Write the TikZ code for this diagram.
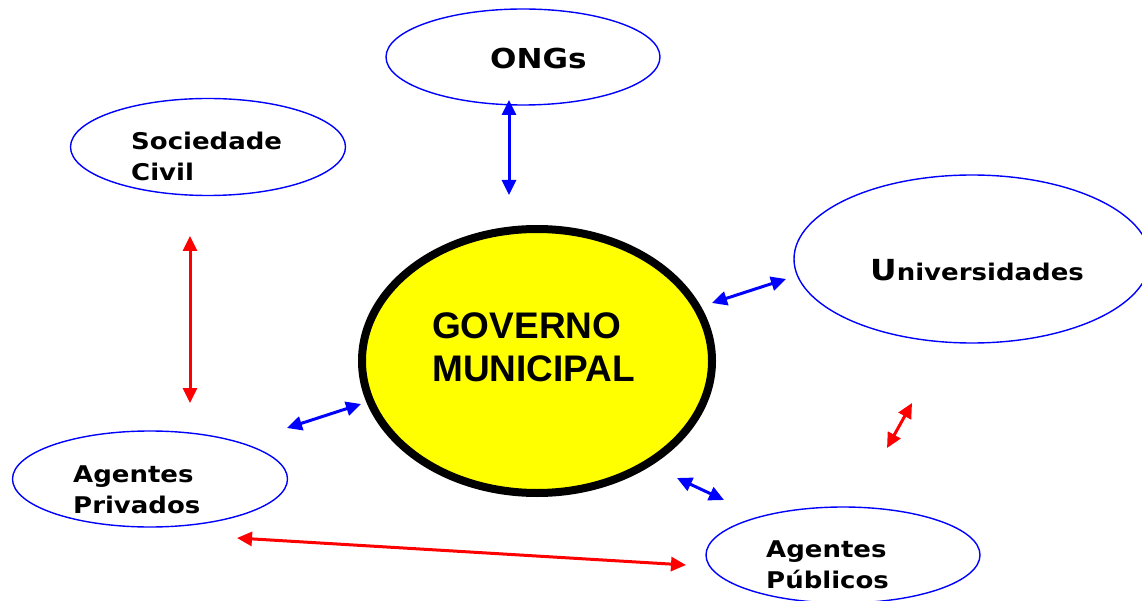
\documentclass[tikz,border=0pt]{standalone}
\usepackage{fontspec}
\setmainfont{DejaVu Sans}
\newfontfamily\verd[FakeStretch=1.13]{DejaVu Sans}
\newfontfamily\arialfont{Liberation Sans}
\usetikzlibrary{shapes.geometric,arrows.meta}
\definecolor{yel}{RGB}{255,255,0}
\definecolor{bl}{RGB}{0,0,255}
\definecolor{rd}{RGB}{255,0,0}
\begin{document}
\begin{tikzpicture}[x=1pt,y=-1pt,
  oval/.style={draw=bl,line width=1.4pt,ellipse,inner sep=0pt},
  lbl/.style={font=\verd\bfseries\fontsize{23}{31}\selectfont,align=left,anchor=west,inner sep=0pt},
  blink/.style={draw=bl,line width=3pt,{Triangle[length=15pt,width=14pt]}-{Triangle[length=15pt,width=14pt]}},
  rlink/.style={draw=rd,line width=3pt,{Triangle[length=15pt,width=14pt]}-{Triangle[length=15pt,width=14pt]}}
]
\useasboundingbox (0,0) rectangle (1142,601);
% ovals
\node[oval,minimum width=274pt,minimum height=96pt] (ong) at (523,57) {};
\node[oval,minimum width=275pt,minimum height=97pt] (soc) at (208,147) {};
\node[oval,minimum width=356pt,minimum height=168pt] (uni) at (972,259) {};
\node[oval,minimum width=275pt,minimum height=96pt] (pri) at (150,479) {};
\node[oval,minimum width=274pt,minimum height=96pt] (pub) at (843,555) {};
\node[draw=black,fill=yel,line width=8pt,ellipse,inner sep=0pt,minimum width=350pt,minimum height=264pt] (gov) at (537,361) {};
% labels
\node[lbl,font=\verd\bfseries\fontsize{27.5}{31}\selectfont] (ongt) at (490,58) {ONGs};
\node[lbl] (soct) at (131,156) {Sociedade\\Civil};
\node[lbl] (unit) at (870,270) {{\fontsize{29}{31}\selectfont U}niversidades};
\node[lbl] (prit) at (73,490) {Agentes\\Privados};
\node[lbl] (pubt) at (766,565) {Agentes\\P\'ublicos};
\node[anchor=west,inner sep=0pt,align=left,font=\arialfont\bfseries\fontsize{37}{43}\selectfont] (govt) at (432,347) {GOVERNO\\MUNICIPAL};
% arrow end points
\coordinate (a1) at (509,100); \coordinate (a2) at (509,195);
\coordinate (b1) at (190,236); \coordinate (b2) at (190,403);
\coordinate (c1) at (287,428); \coordinate (c2) at (361,404);
\coordinate (d1) at (712,303); \coordinate (d2) at (786,279);
\coordinate (e1) at (887,448); \coordinate (e2) at (912,403);
\coordinate (f1) at (677,478); \coordinate (f2) at (724,500);
\coordinate (g1) at (237,538); \coordinate (g2) at (686,565);
\draw[blink] (a1) -- (a2);
\draw[rlink] (b1) -- (b2);
\draw[blink] (c1) -- (c2);
\draw[blink] (d1) -- (d2);
\draw[rlink] (e1) -- (e2);
\draw[blink] (f1) -- (f2);
\draw[rlink] (g1) -- (g2);
\end{tikzpicture}
\end{document}
